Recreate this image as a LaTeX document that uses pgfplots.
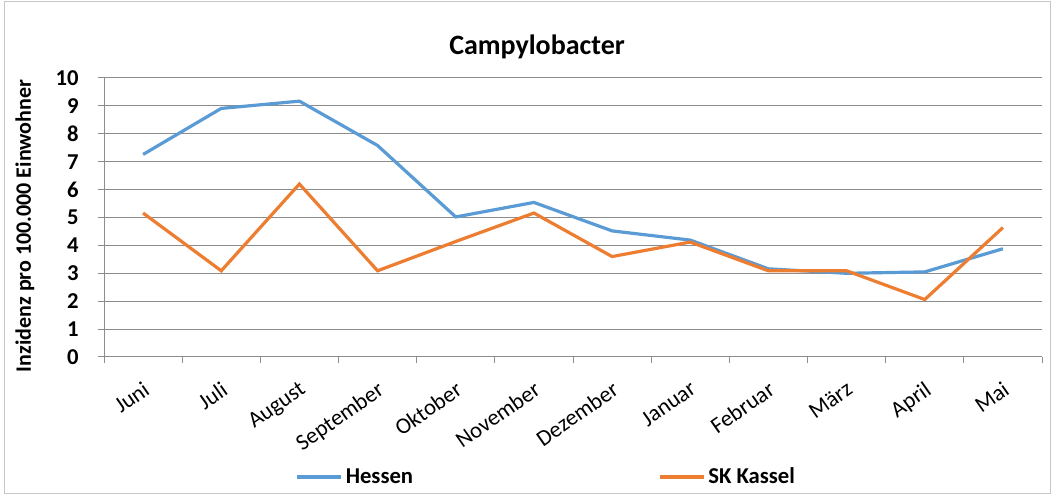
\documentclass[border=0pt]{standalone}
\usepackage{pgfplots}
\pgfplotsset{compat=1.18}
\usepackage{fontspec}
\setmainfont{Carlito}
\definecolor{hblue}{HTML}{5B9BD5}
\definecolor{korange}{HTML}{ED7D31}
\definecolor{gridc}{HTML}{8C8C8C}
\begin{document}
\begin{tikzpicture}[x=0.75pt,y=0.75pt]
\useasboundingbox (0,0) rectangle (1053,496);
\draw[gray!45, line width=0.75pt] (4,2) rectangle (1050,494);
\node[font=\bfseries\fontsize{21}{25}\selectfont] at (537,449) {Campylobacter};
\node[font=\bfseries\fontsize{16.5}{20}\selectfont, rotate=90] at (25,270) {Inzidenz pro 100.000 Einwohner};
\begin{axis}[
  at={(78pt,104.25pt)}, anchor=south west,
  scale only axis, width=703.5pt, height=209.25pt,
  xmin=-0.5, xmax=11.5, ymin=0, ymax=10,
  axis x line*=bottom, axis y line*=left,
  axis line style={gridc, line width=0.75pt, -},
  ytick={0,1,...,10},
  xtick={0,...,11},
  xticklabels={Juni, Juli, August, September, Oktober, November, Dezember, Januar, Februar, März, April, Mai},
  minor xtick={-0.5,0.5,...,11.5},
  major x tick style={draw=none},
  minor x tick style={gridc, line width=0.75pt},
  minor tick length=4.5pt,
  y tick style={gridc, line width=0.75pt},
  major tick length=4.5pt,
  tick align=outside,
  ymajorgrids, grid style={gridc, line width=0.75pt},
  /pgf/number format/assume math mode=true,
  yticklabel style={font=\bfseries\fontsize{17}{20}\selectfont, xshift=-11pt},
  xticklabel style={font=\fontsize{17}{20}\selectfont, rotate=35, anchor=north east, inner sep=1pt, yshift=-9pt, xshift=-7pt},
  legend columns=2,
  legend style={at={(0.472,-0.43)}, anchor=center, draw=none, font=\bfseries\fontsize{17}{20}\selectfont, /tikz/column 2/.style={column sep=182pt}, inner xsep=0pt},
  legend cell align=left,
  legend image code/.code={\draw[#1] (0pt,0pt) -- (33pt,0pt);},
  clip=false,
]
\addplot[hblue, line width=2.4pt] coordinates {
(0,7.26) (1,8.91) (2,9.17) (3,7.58) (4,5.02) (5,5.54) (6,4.52) (7,4.19) (8,3.16) (9,3.00) (10,3.05) (11,3.88)};
\addlegendentry{Hessen}
\addplot[korange, line width=2.4pt] coordinates {
(0,5.16) (1,3.09) (2,6.20) (3,3.09) (4,4.14) (5,5.16) (6,3.60) (7,4.12) (8,3.09) (9,3.09) (10,2.06) (11,4.64)};
\addlegendentry{SK Kassel}
\end{axis}
\end{tikzpicture}
\end{document}
